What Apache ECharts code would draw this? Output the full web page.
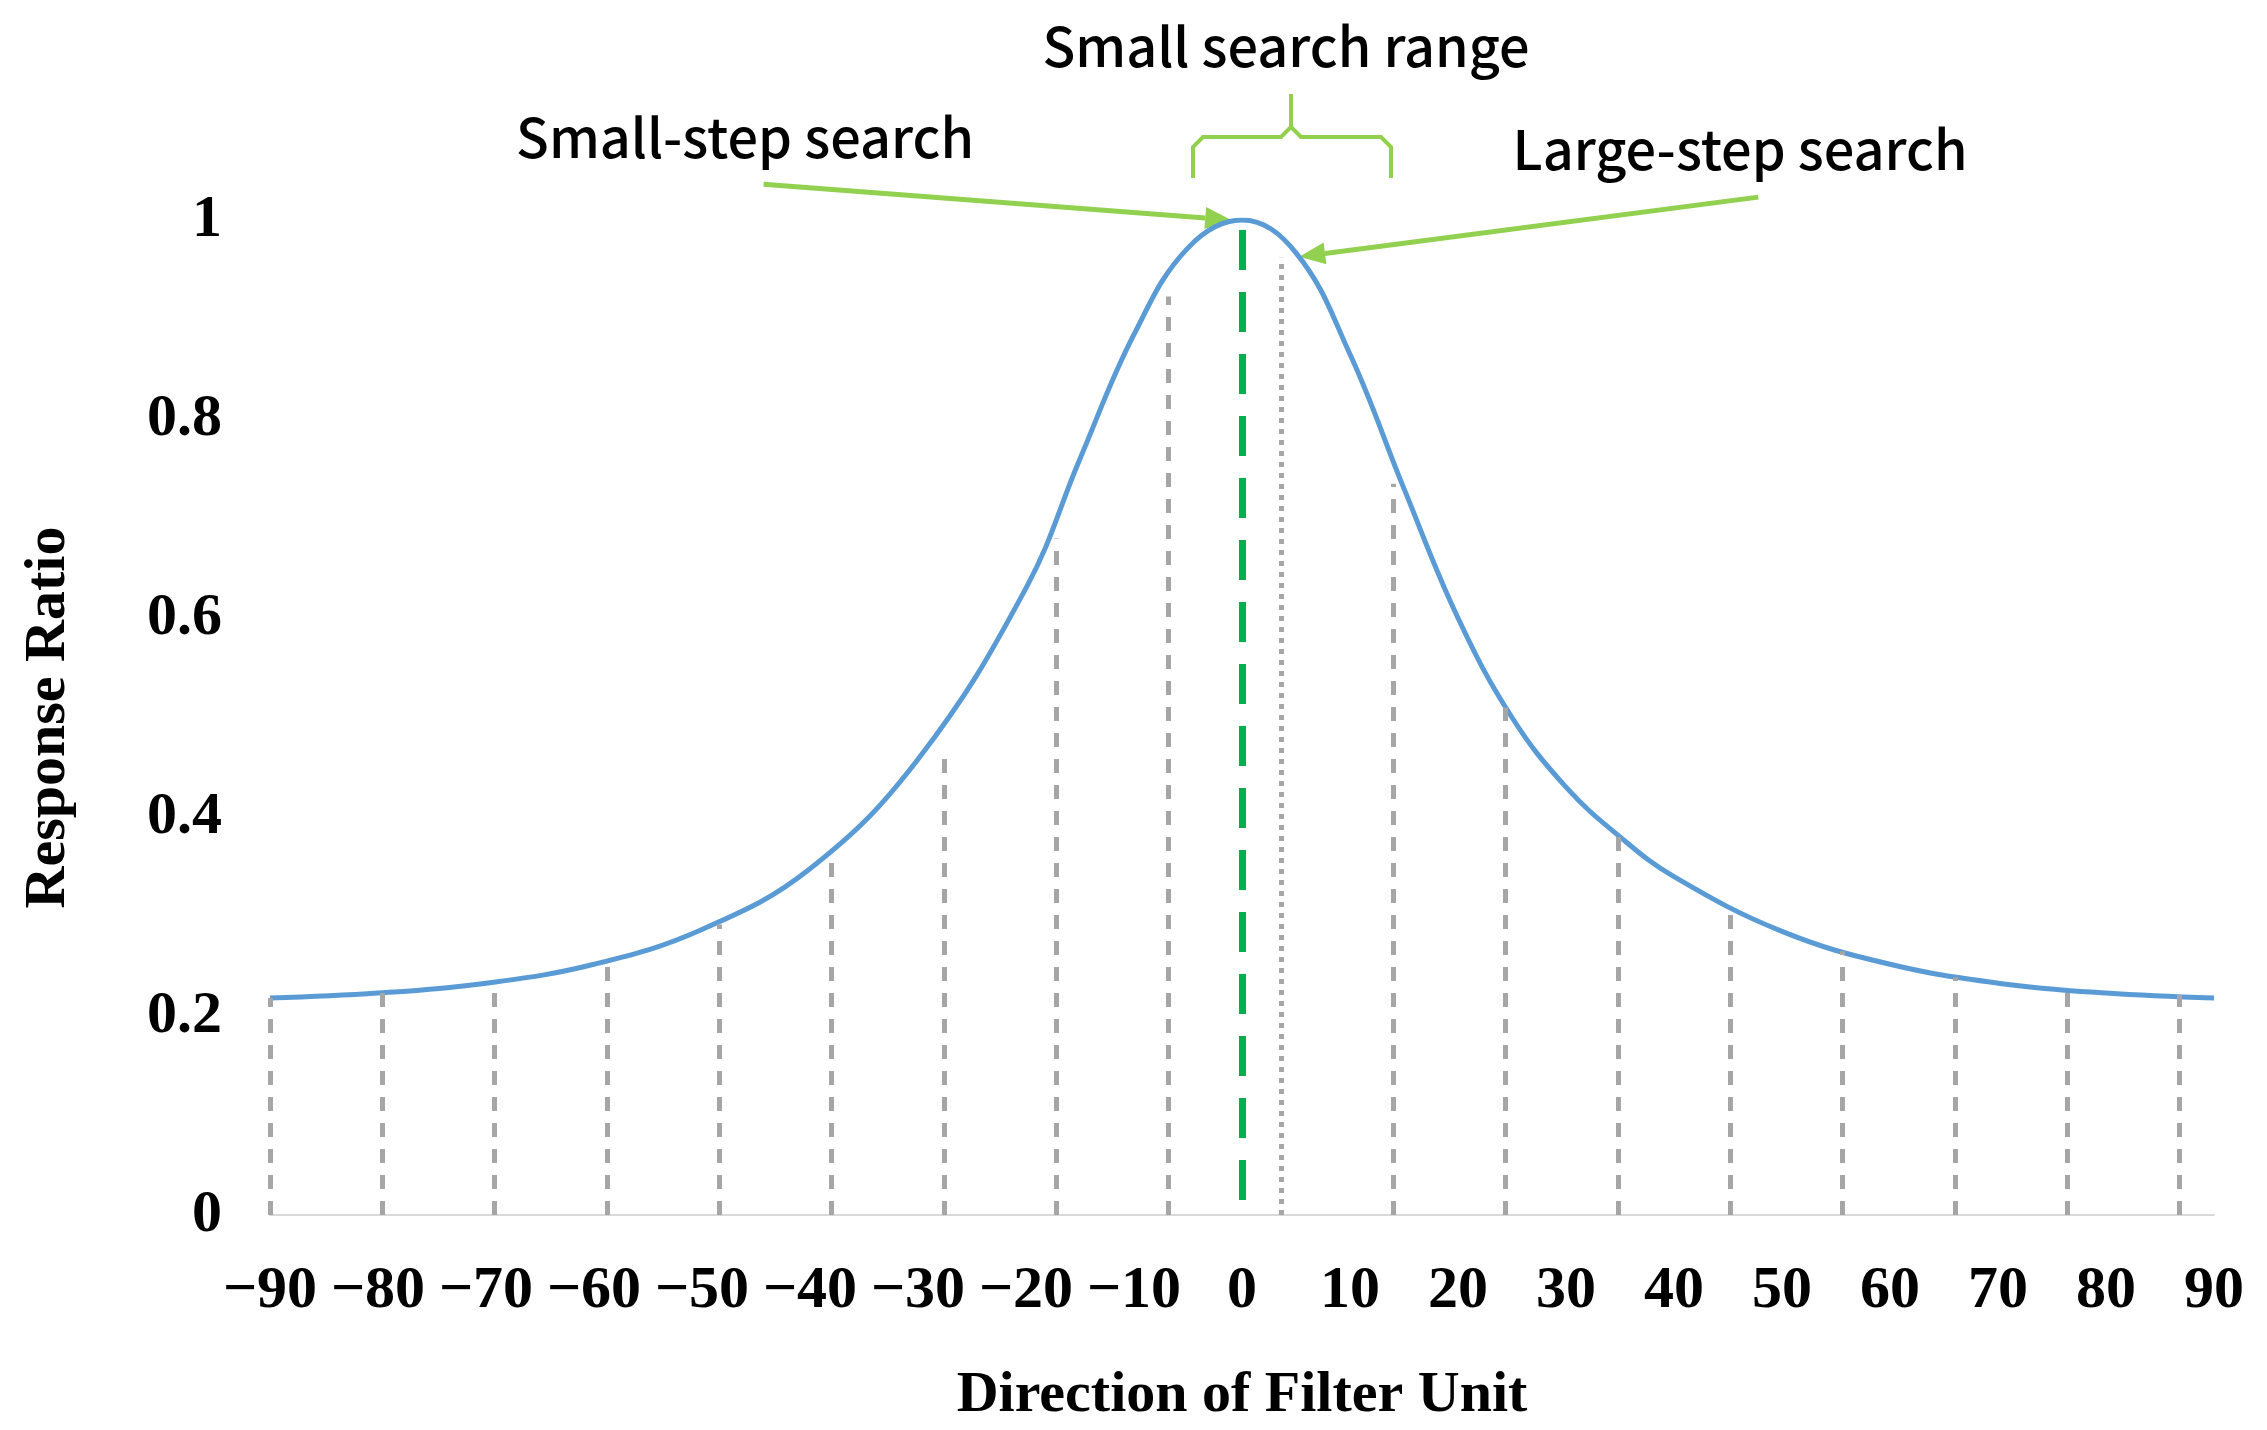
<!DOCTYPE html>
<html><head><meta charset="utf-8">
<script src="https://cdn.jsdelivr.net/npm/echarts@6/dist/echarts.min.js"></script>
<style>html,body{margin:0;padding:0;background:#fff}#c{width:2267px;height:1430px}</style>
</head><body><div id="c"></div>
<script>
var curveX = [-90,-80,-70,-60,-50,-40,-30,-20,-15,-10,-5,0,5,10,15,20,25,30,35,40,50,60,70,80,90];
var curveY = [0.218,0.223,0.233,0.252,0.287,0.348,0.458,0.63,0.76,0.885,0.972,1,0.967,0.865,0.73,0.6,0.5,0.43,0.38,0.34,0.285,0.252,0.233,0.223,0.218];
var dropX = [-90,-79.6,-69.2,-58.8,-48.4,-38,-27.6,-17.2,-6.8,14,24.4,34.8,45.2,55.6,66,76.4,86.8];
var dropY = [0.218,0.226,0.234,0.25,0.292,0.355,0.47,0.68,0.923,0.735,0.51,0.38,0.308,0.265,0.239,0.227,0.221];
var dottedX = 3.6, dottedY = 0.962;
var peakX = 0, peakY = 1;
var arrowSmall = [[-44.3,1.036],[-1,1.0]];
var arrowLarge = [[47.8,1.023],[5.3,0.963]];

var chart = echarts.init(document.getElementById('c'));
var gray = '#a6a6a6', green = '#92d050';
var drops = dropX.map(function(x,i){return [{coord:[x,0]},{coord:[x,dropY[i]]}];});
var serif = '"Liberation Serif","Times New Roman",serif';
var sans = '"Noto Sans CJK SC","Noto Sans",sans-serif';
chart.setOption({
  animation:false,
  grid:{left:270,right:53,top:220,bottom:211},
  xAxis:{type:'value',min:-90,max:90,interval:10,
    axisLine:{lineStyle:{color:'#d9d9d9',width:2}},axisTick:{show:false},splitLine:{show:false},
    axisLabel:{margin:46,color:'#000',fontFamily:serif,fontWeight:'bold',fontSize:60,
      formatter:function(v){return v<0?'\u2212'+(-v):String(v);}},
    name:'Direction of Filter Unit',nameLocation:'middle',nameGap:152,
    nameTextStyle:{color:'#000',fontFamily:serif,fontWeight:'bold',fontSize:58}},
  yAxis:{type:'value',min:0,max:1,interval:0.2,
    axisLine:{show:false},axisTick:{show:false},splitLine:{show:false},
    axisLabel:{margin:48,color:'#000',fontFamily:serif,fontWeight:'bold',fontSize:60},
    name:'Response Ratio',nameLocation:'middle',nameGap:192,
    nameTextStyle:{color:'#000',fontFamily:serif,fontWeight:'bold',fontSize:58}},
  series:[
    {type:'line',data:[],markLine:{silent:true,symbol:'none',label:{show:false},
      lineStyle:{color:gray,type:[14,12],width:5},data:drops}},
    {type:'line',data:[],markLine:{silent:true,symbol:'none',label:{show:false},
      lineStyle:{color:gray,type:[5,6],width:5},data:[[{coord:[dottedX,0]},{coord:[dottedX,dottedY]}]]}},
    {type:'line',data:[],markLine:{silent:true,symbol:'none',label:{show:false},
      lineStyle:{color:'#00b050',type:[40,22],width:7},data:[[{coord:[peakX,0.015]},{coord:[peakX,peakY]}]]}},
    {type:'line',smooth:0.4,showSymbol:false,lineStyle:{color:'#5b9bd5',width:5},
      data:curveX.map(function(x,i){return [x,curveY[i]];})}
  ]
});
function arrow(pair){
  var a = chart.convertToPixel({gridIndex:0}, pair[0]);
  var b = chart.convertToPixel({gridIndex:0}, pair[1]);
  var ang = Math.atan2(b[1]-a[1], b[0]-a[0]);
  var L = 26, W = 11;
  var bx = b[0]-L*Math.cos(ang), by = b[1]-L*Math.sin(ang);
  var px = -Math.sin(ang)*W, py = Math.cos(ang)*W;
  return [
    {type:'line',shape:{x1:a[0],y1:a[1],x2:bx,y2:by},style:{stroke:green,lineWidth:5}},
    {type:'polygon',shape:{points:[[b[0],b[1]],[bx+px,by+py],[bx-px,by-py]]},style:{fill:green}}
  ];
}
var g = [
  {type:'polyline',shape:{points:[[1193,178],[1193,147],[1203,137],[1281,137],[1291,127],[1291,94]]},style:{stroke:green,lineWidth:4,fill:null}},
  {type:'polyline',shape:{points:[[1391,178],[1391,147],[1381,137],[1301,137],[1291,127]]},style:{stroke:green,lineWidth:4,fill:null}},
  {type:'text',x:1286,y:46,style:{text:'Small search range',font:'500 54px '+sans,fill:'#000',align:'center',verticalAlign:'middle'}},
  {type:'text',x:745,y:137,style:{text:'Small-step search',font:'500 54px '+sans,fill:'#000',align:'center',verticalAlign:'middle'}},
  {type:'text',x:1740,y:149,style:{text:'Large-step search',font:'500 54px '+sans,fill:'#000',align:'center',verticalAlign:'middle'}}
].concat(arrow(arrowSmall), arrow(arrowLarge));
chart.setOption({graphic:g});
</script></body></html>
